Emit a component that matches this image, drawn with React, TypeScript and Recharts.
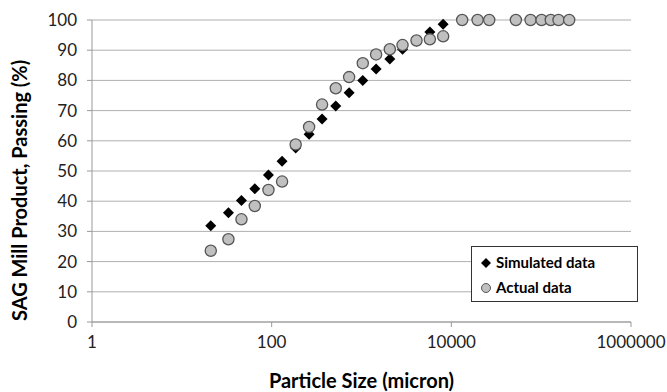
import React from "react";
import { ScatterChart, Scatter, XAxis, YAxis, CartesianGrid } from "recharts";

const simulatedX = [21.0, 33.0, 46.1, 64.9, 92.1, 130.6, 185, 261, 364, 517, 728, 1033, 1454, 2066, 2863, 4096, 5768, 8107];
const simulatedY = [31.9, 36.2, 40.2, 44.1, 48.7, 53.2, 57.6, 62.2, 67.2, 71.5, 75.9, 80.0, 83.8, 87.1, 90.3, 93.0, 96.0, 98.6];

const actualX = [21.0, 33.0, 46.1, 64.9, 92.1, 130.6, 185, 261, 364, 517, 728, 1033, 1454, 2066, 2863, 4096, 5768, 8107, 13200, 19600, 26400, 52300, 76200, 101000, 128000, 156000, 205000];
const actualY = [23.6, 27.4, 34.0, 38.4, 43.7, 46.5, 58.8, 64.6, 72.0, 77.4, 81.1, 85.7, 88.6, 90.3, 91.7, 93.2, 93.6, 94.6, 100, 100, 100, 100, 100, 100, 100, 100, 100];

const xTicks = [1, 100, 10000, 1000000];
const yTicks = [0, 10, 20, 30, 40, 50, 60, 70, 80, 90, 100];

const seriesNames = ["Simulated data", "Actual data"];

const simulatedData = simulatedX.map((x, i) => ({ x, y: simulatedY[i] }));
const actualData = actualX.map((x, i) => ({ x, y: actualY[i] }));

const FONT = "Lato, 'Open Sans', sans-serif";

const Diamond = (props: any) => {
  const { cx, cy } = props;
  const r = 5.5;
  return <polygon points={`${cx},${cy - r} ${cx + r},${cy} ${cx},${cy + r} ${cx - r},${cy}`} fill="#000" />;
};

const Dot = (props: any) => {
  const { cx, cy } = props;
  return <circle cx={cx} cy={cy} r={5.6} fill="#c0c0c0" stroke="#555" strokeWidth={1.3} />;
};

const LegendBox = () => (
  <div
    style={{
      position: "absolute",
      left: 471,
      top: 246,
      border: "1px solid #333",
      background: "#fff",
      width: 167,
      height: 56,
      boxSizing: "border-box",
      fontFamily: FONT,
      fontWeight: 700,
      fontSize: 15,
      color: "#000",
      paddingLeft: 8,
      paddingTop: 3,
      lineHeight: "25px",
    }}
  >
    <div style={{ display: "flex", alignItems: "center" }}>
      <svg width={12} height={12} style={{ marginRight: 4 }}>
        <polygon points="6,1 11,6 6,11 1,6" fill="#000" />
      </svg>
      {seriesNames[0]}
    </div>
    <div style={{ display: "flex", alignItems: "center" }}>
      <svg width={12} height={12} style={{ marginRight: 4 }}>
        <circle cx={6} cy={6} r={4.5} fill="#c0c0c0" stroke="#555" strokeWidth={1} />
      </svg>
      {seriesNames[1]}
    </div>
  </div>
);

export default function App() {
  return (
    <div style={{ position: "absolute", left: 0, top: 0, width: 667, height: 392, background: "#fff" }}>
      <ScatterChart width={667} height={392} margin={{ top: 20, right: 36, bottom: 0, left: 0 }}>
        <CartesianGrid horizontal={true} vertical={false} stroke="#b0b0b0" strokeWidth={1} />
        <XAxis
          dataKey="x"
          type="number"
          scale="log"
          domain={[1, 1000000]}
          ticks={xTicks}
          allowDataOverflow
          height={70}
          tickSize={5}
          tickMargin={9}
          axisLine={{ stroke: "#999" }}
          tickLine={{ stroke: "#999" }}
          tick={{ fontFamily: FONT, fontSize: 17, fill: "#222" }}
          label={{
            value: "Particle Size (micron)",
            position: "insideBottom",
            offset: 4,
            style: { fontFamily: FONT, fontSize: 20, fontWeight: 700, fill: "#000" },
          }}
        />
        <YAxis
          dataKey="y"
          type="number"
          domain={[0, 100]}
          ticks={yTicks}
          width={92}
          tickSize={5}
          tickMargin={10}
          axisLine={{ stroke: "#999" }}
          tickLine={{ stroke: "#999" }}
          tick={{ fontFamily: FONT, fontSize: 17, fill: "#222" }}
          label={{
            value: "SAG Mill Product, Passing (%)",
            angle: -90,
            position: "insideLeft",
            offset: 20,
            dy: 150,
            style: { fontFamily: FONT, fontSize: 20, fontWeight: 700, fill: "#000" },
          }}
        />
        <Scatter name={seriesNames[0]} data={simulatedData} shape={<Diamond />} isAnimationActive={false} />
        <Scatter name={seriesNames[1]} data={actualData} shape={<Dot />} isAnimationActive={false} />
      </ScatterChart>
      <LegendBox />
    </div>
  );
}
